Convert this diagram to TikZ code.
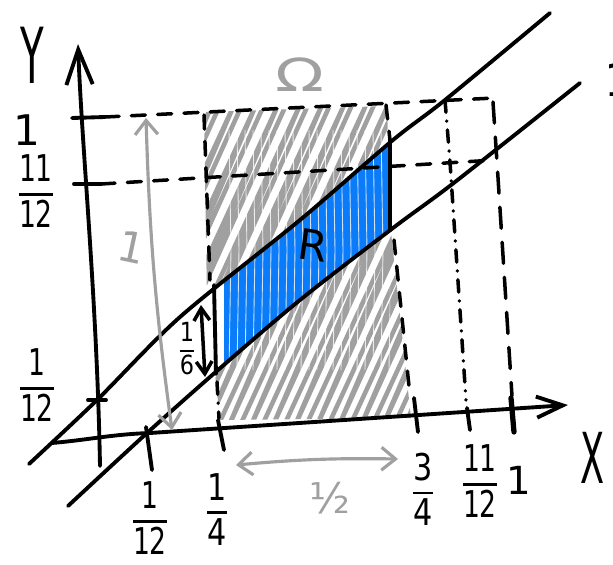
\documentclass[tikz,border=0pt]{standalone}
\usepackage{fontspec}
\setmainfont{DejaVu Sans}
\usetikzlibrary{arrows.meta}
\definecolor{hatchgray}{RGB}{160,160,160}
\definecolor{rblue}{RGB}{10,124,250}
\newcommand{\hf}[2]{{\setlength{\arrayrulewidth}{1.5pt}\renewcommand{\arraystretch}{0.85}\begin{tabular}{@{}c@{}}#1\\[0.05em]\hline\noalign{\vskip 0.12em}#2\end{tabular}}}
\begin{document}
\begin{tikzpicture}[x=0.02cm,y=-0.02cm,
  ln/.style={line width=2.2pt, line cap=round, line join=round},
  dsh/.style={line width=2pt, line cap=round, dash pattern=on 8pt off 7pt},
  dd/.style={line width=2pt, line cap=round, dash pattern=on 7pt off 5pt on 0.1pt off 5pt},
  hatch/.style={hatchgray, line width=2.6pt, line cap=round, line join=round},
  garr/.style={hatchgray, line width=1.8pt, line cap=round, {Straight Barb[length=8pt,width=13pt]}-{Straight Barb[length=8pt,width=13pt]}},
  barr/.style={line width=2pt, line cap=round, {Straight Barb[length=7pt,width=9pt]}-{Straight Barb[length=7pt,width=9pt]}},
  lbl/.style={inner sep=0pt}]
\useasboundingbox (0,0) rectangle (613,565);

% gray hatching of Omega (upper part)
\begin{scope}
  \clip (204,112) -- (387,106) -- (391,232) -- (411,418) -- (220,420) -- (207,300) -- cycle;
  \clip plot[smooth] coordinates {(29,464) (97,400) (180,317) (300,220) (393,140) (445,100) (550,13)} -- (620,13) -- (620,-10) -- (-10,-10) -- (-10,464) -- cycle;
  \foreach \x in {40,62,...,420} {\draw[hatch] (\x,430) -- (\x+150,105) -- (\x+11,430) -- (\x+158,105);}
\end{scope}
% gray hatching (lower part)
\begin{scope}
  \clip (204,112) -- (387,106) -- (391,232) -- (411,418) -- (220,420) -- (207,300) -- cycle;
  \clip plot[smooth] coordinates {(68,506) (147,433) (218,370) (300,300) (393,228) (455,182) (580,83)} -- (620,83) -- (620,600) -- (-10,600) -- (-10,506) -- cycle;
  \foreach \x in {40,62,...,420} {\draw[hatch] (\x,430) -- (\x+150,105) -- (\x+11,430) -- (\x+158,105);}
\end{scope}

% blue region R
\begin{scope}
  \clip (224,0) rectangle (390,600);
  \fill[rblue] plot[smooth] coordinates {(29,464) (97,400) (180,317) (300,220) (393,140) (445,100) (550,13)}
     -- plot[smooth] coordinates {(580,83) (455,182) (393,228) (300,300) (218,370) (147,433) (68,506)} -- cycle;
  \foreach \x in {229,237,...,389} {\draw[white, line width=0.5pt, opacity=0.8] (\x,130) -- (\x+2,250) -- (\x,370);}
\end{scope}

% diagonal lines
\draw[ln] plot[smooth] coordinates {(29,464) (97,400) (180,317) (300,220) (393,140) (445,100) (550,13)};
\draw[ln] plot[smooth] coordinates {(68,506) (147,433) (218,370) (300,300) (393,228) (455,182) (580,83)};

% axes
\coordinate (yb) at (100,466); \coordinate (yt) at (78,44);
\draw[ln, -{Straight Barb[length=20pt,width=15pt]}] (yb) .. controls (97,300) and (82,150) .. (yt);
\coordinate (xl) at (52,443); \coordinate (xm) at (150,433); \coordinate (xr) at (568,405);
\draw[ln, -{Straight Barb[length=15pt,width=12pt]}] (xl) to[out=5,in=182] (xm) -- (xr);

% y ticks
\coordinate (t1a) at (72,118); \coordinate (t1b) at (105,117);
\coordinate (t2a) at (74,184); \coordinate (t2b) at (101,184);
\coordinate (t3a) at (88,400); \coordinate (t3b) at (106,400);
\draw[ln] (t1a) -- (t1b); \draw[ln] (t2a) -- (t2b); \draw[ln] (t3a) -- (t3b);
% x ticks
\coordinate (u1a) at (146,427); \coordinate (u1b) at (152,470);
\coordinate (u2a) at (218,420); \coordinate (u2b) at (224,450);
\coordinate (u3a) at (414,398); \coordinate (u3b) at (418,432);
\coordinate (u4a) at (467,408); \coordinate (u4b) at (470,430);
\coordinate (u5a) at (511,398); \coordinate (u5b) at (514,432);
\draw[ln] (u1a) -- (u1b); \draw[ln] (u2a) -- (u2b); \draw[ln] (u3a) -- (u3b);
\draw[ln] (u4a) -- (u4b); \draw[ln, line width=3pt] (u5a) -- (u5b);

% dashed guides
\coordinate (h1r) at (495,98); \coordinate (h2r) at (495,160);
\draw[dsh] (t1b) -- (h1r);
\draw[dsh] (t2b) -- (h2r);
\coordinate (la) at (204,115); \coordinate (lb) at (210,280);
\coordinate (lc) at (217,382); \coordinate (ld) at (219,418);
\draw[dsh] (la) -- (lb);
\draw[dd] (lc) -- (ld);
\coordinate (ra) at (386,105); \coordinate (rb) at (390,140);
\coordinate (rc) at (390,230); \coordinate (rd) at (394,240); \coordinate (re) at (410,396);
\draw[dsh] (ra) -- (rb);
\draw[dsh] (rd) -- (re);
\coordinate (ea) at (445,100); \coordinate (eb) at (450,162); \coordinate (ec) at (466,400);
\draw[dd] (ea) -- (eb) -- (ec);
\coordinate (oa) at (493,102); \coordinate (ob) at (497,162); \coordinate (oc) at (512,396);
\draw[dsh, dash pattern=on 12pt off 8pt] (oa) -- (ob) -- (oc);

% edges of R
\coordinate (rl1) at (214,285); \coordinate (rl2) at (216,374);
\draw[ln] (rl1) -- (rl2);
\draw[ln] (rb) -- (rc);

% arrows
\coordinate (g1a) at (146,118); \coordinate (g1b) at (172,430);
\draw[garr] (g1a) to[bend right=3] (g1b);
\coordinate (g2a) at (236,465); \coordinate (g2b) at (398,459);
\draw[garr] (g2a) to[bend left=3] (g2b);
\coordinate (a6a) at (201,305); \coordinate (a6b) at (205,377);
\draw[barr] (a6a) -- (a6b);

% labels
\node[lbl] (Ylab) at (32,55) {\scalebox{0.5}[1]{\fontsize{44}{44}\selectfont Y}};
\node[lbl] (Xlab) at (593,458) {\scalebox{0.5}[1]{\fontsize{40}{40}\selectfont X}};
\node[lbl] (ly1) at (27,130) {\fontsize{24}{24}\selectfont 1};
\node[lbl] (ly2) at (36,196) {\scalebox{0.72}[1]{\fontsize{21}{21}\selectfont\hf{11}{12}}};
\node[lbl] (ly3) at (37,390) {\scalebox{0.72}[1]{\fontsize{21}{21}\selectfont\hf{1}{12}}};
\node[lbl] (lx1) at (150,523) {\scalebox{0.72}[1]{\fontsize{21}{21}\selectfont\hf{1}{12}}};
\node[lbl] (lx2) at (217,514) {\scalebox{0.82}[1]{\fontsize{21}{21}\selectfont\hf{1}{4}}};
\node[lbl] (lx3) at (423,494) {\scalebox{0.82}[1]{\fontsize{21}{21}\selectfont\hf{3}{4}}};
\node[lbl] (lx4) at (480,486) {\scalebox{0.72}[1]{\fontsize{21}{21}\selectfont\hf{11}{12}}};
\node[lbl] (lx5) at (519,480) {\fontsize{22}{22}\selectfont 1};
\node[lbl] (l16) at (187,352) {\scalebox{0.85}[1]{\fontsize{15}{15}\selectfont\hf{1}{6}}};
\node[lbl, text=hatchgray, rotate=-12] (lg1) at (132,247) {\fontsize{24}{24}\selectfont 1};
\node[lbl, text=hatchgray] (lg2) at (330,498) {\fontsize{24}{24}\selectfont ½};
\node[lbl, text=hatchgray] (lom) at (300,75) {\scalebox{1.4}[1]{\fontsize{26}{26}\selectfont Ω}};
\node[lbl, rotate=-8] (lR) at (313,245) {\fontsize{24}{24}\selectfont R};
\node[lbl] (lcut) at (619,80) {\fontsize{26}{26}\selectfont 1};
\end{tikzpicture}
\end{document}
